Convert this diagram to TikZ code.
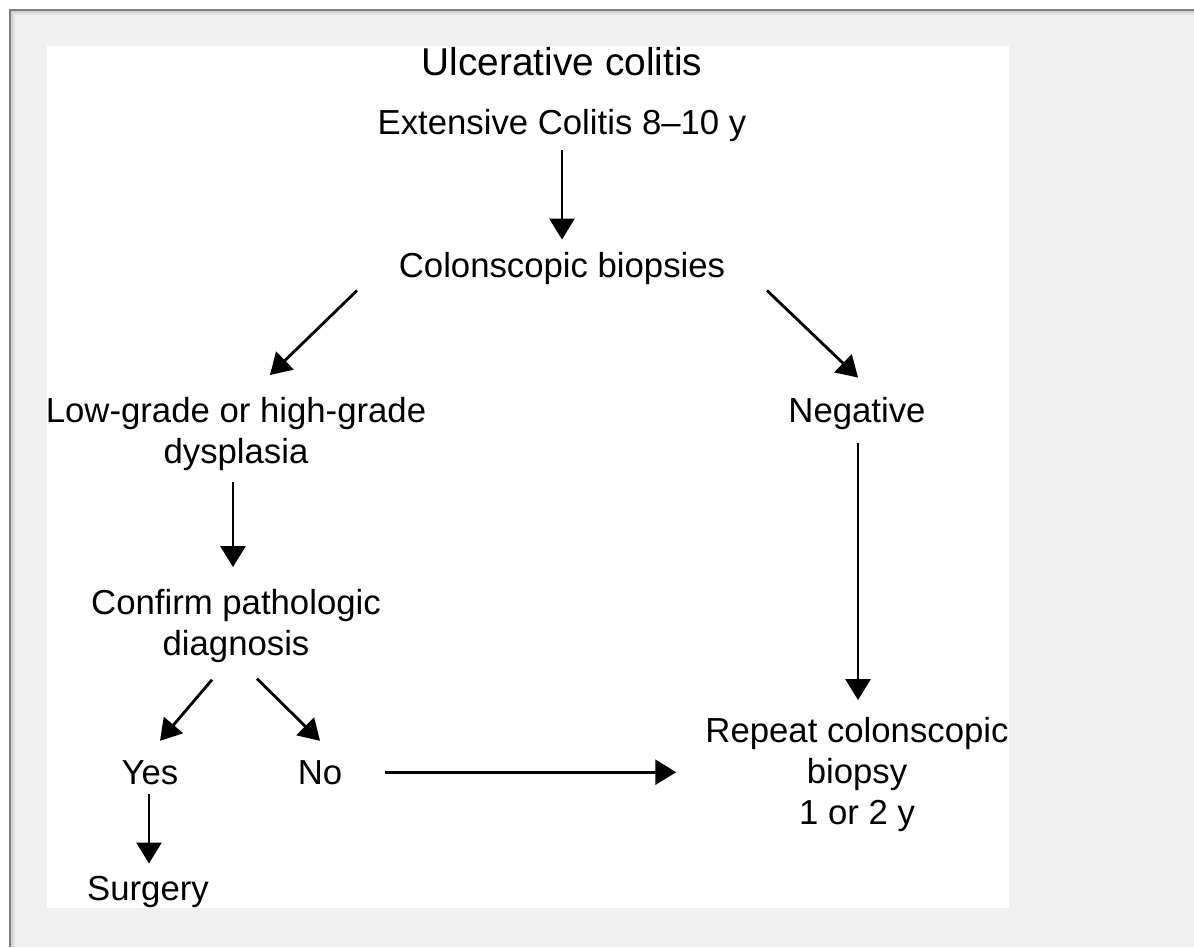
\documentclass[tikz,border=0pt]{standalone}
\usepackage{fontspec}
\setmainfont{Liberation Sans}
\usepackage{tikz}
\usetikzlibrary{arrows.meta,calc}
\definecolor{framedark}{HTML}{808080}
\definecolor{framemid}{HTML}{D0D0D0}
\definecolor{framelight}{HTML}{E4E4E4}
\definecolor{panelgray}{HTML}{F0F0F0}
\newcommand{\chartfont}{\fontsize{24.7}{29}\selectfont}
\newcommand{\headfont}{\fontsize{27.6}{32}\selectfont}
\tikzset{
  lbl/.style={inner sep=0pt,align=center,font=\chartfont},
  arrow/.style={-{Triangle[length=0.52cm,width=0.62cm]},line width=2pt,draw=black}
}

\begin{document}
\begin{tikzpicture}[x=0.025cm,y=-0.025cm]
  % frame and panel
  \useasboundingbox (0,0) rectangle (1194,947);
  \fill[white] (0,0) rectangle (1194,947);
  \fill[framedark] (9,9) rectangle (1194,947);
  \fill[framemid] (11,11) rectangle (1194,947);
  \fill[framelight] (13,13) rectangle (1194,947);
  \fill[panelgray] (15,15) rectangle (1194,947);
  \fill[white] (47,46) rectangle (1009,908);
  % nodes
  \node[lbl,anchor=base,font=\headfont] (uc) at (562,75) {Ulcerative colitis};
  \node[lbl,anchor=base] (ext) at (562,134) {Extensive Colitis 8--10 y};
  \node[lbl,anchor=base] (cb) at (562,277) {Colonscopic biopsies};
  \node[lbl,anchor=north] (lg) at (236,397) {Low-grade or high-grade\\dysplasia};
  \node[lbl,anchor=base] (neg) at (857,422) {Negative};
  \node[lbl,anchor=north] (cp) at (236,589) {Confirm pathologic\\diagnosis};
  \node[lbl,anchor=base] (yes) at (150,784) {Yes};
  \node[lbl,anchor=base] (no) at (320,784) {No};
  \node[lbl,anchor=base] (sur) at (148,900) {Surgery};
  \node[lbl,anchor=north] (rp) at (857,717) {Repeat colonscopic\\biopsy\\1 or 2 y};
  % arrows
  \draw[arrow] ([shift={(0,9)}]ext.south) -- ([shift={(0,-12)}]cb.north);
  \draw[arrow] ([shift={(-205,6)}]cb.south) -- ([shift={(34,-22)}]lg.north);
  \draw[arrow] ([shift={(205,6)}]cb.south) -- ([shift={(1,-19)}]neg.north);
  \draw[arrow] ([shift={(-3,11)}]lg.south) -- ([shift={(-3,-22)}]cp.north);
  \draw[arrow] ([shift={(-24,17)}]cp.south) -- ([shift={(10,-19)}]yes.north);
  \draw[arrow] ([shift={(21,16)}]cp.south) -- ([shift={(0,-19)}]no.north);
  \draw[arrow] ([shift={(-1,9)}]yes.south) -- ([shift={(1,-12)}]sur.north);
  \draw[arrow] ([shift={(1,14)}]neg.south) -- ([shift={(1,-17)}]rp.north);
  \draw[arrow] ([shift={(43,0)}]no.east) -- ($(no.east -| rp.west)+(-29,0)$);
\end{tikzpicture}
\end{document}
